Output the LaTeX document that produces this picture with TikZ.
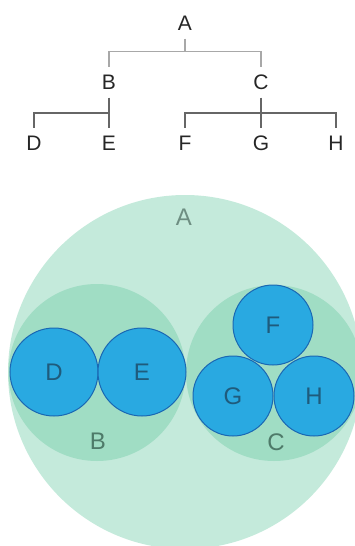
\documentclass[tikz,border=0pt]{standalone}
\usepackage{fontspec}
\setmainfont{Liberation Sans}
\definecolor{lineTop}{HTML}{A8A8A8}
\definecolor{lineBot}{HTML}{666666}
\definecolor{fillA}{HTML}{C4EADB}
\definecolor{fillB}{HTML}{A0DDC4}
\definecolor{blueF}{HTML}{29A9E1}
\definecolor{blueD}{HTML}{1A68B3}
\definecolor{txtBlue}{HTML}{1F5B7C}
\definecolor{txtB}{HTML}{4E7A69}
\definecolor{txtA}{HTML}{6E8E82}
\tikzset{
  treelabel/.style={inner sep=0pt, outer sep=8pt, text height=15pt, text depth=0pt, font=\fontsize{21}{21}\selectfont, text=black!85},
  toplink/.style={draw=lineTop, line width=1.3pt},
  botlink/.style={draw=lineBot, line width=2pt},
  bigcirc/.style={circle, inner sep=0pt, fill=fillA},
  midcirc/.style={circle, inner sep=0pt, fill=fillB},
  leafcirc/.style={circle, inner sep=0pt, fill=blueF, draw=blueD, line width=1pt, text=txtBlue, font=\fontsize{24}{24}\selectfont},
  circlabel/.style={inner sep=0pt, font=\fontsize{24}{24}\selectfont},
}
\begin{document}
\begin{tikzpicture}[x=1pt, y=-1pt]
\useasboundingbox (0,0) rectangle (355,546);
\clip (0,0) rectangle (355,546);
% tree
\node[treelabel] (A) at (185,23) {A};
\node[treelabel] (B) at (109,82) {B};
\node[treelabel] (C) at (261,82) {C};
\node[treelabel] (D) at (34,143) {D};
\node[treelabel] (E) at (109,143) {E};
\node[treelabel] (F) at (185,143) {F};
\node[treelabel] (G) at (261,143) {G};
\node[treelabel] (H) at (336,143) {H};
\draw[toplink] (A.south) -- ++(0,13) coordinate (ja) -| (B.north);
\draw[toplink] (ja) -| (C.north);
\draw[botlink] (B.south) -- ++(0,15.5) coordinate (jb) -| (D.north);
\draw[botlink] (jb) -| (E.north);
\draw[botlink] (C.south) -- (G.north);
\draw[botlink] (F.north) |- (H.north |- jb) -- (H.north);
% circle packing
\node[bigcirc, minimum size=354pt] (cA) at (185,372) {};
\node[midcirc, minimum size=177pt] (cB) at (97,372.5) {};
\node[midcirc, minimum size=176pt] (cC) at (274,373) {};
\node[circlabel, text=txtA] (lA) at (184,217) {A};
\node[circlabel, text=txtB] (lB) at (98,441) {B};
\node[circlabel, text=txtB] (lC) at (276,442) {C};
\node[leafcirc, minimum size=88pt] (cD) at (54,372) {D};
\node[leafcirc, minimum size=88pt] (cE) at (142,372) {E};
\node[leafcirc, minimum size=80pt] (cF) at (273,325) {F};
\node[leafcirc, minimum size=80pt] (cG) at (233,396) {G};
\node[leafcirc, minimum size=80pt] (cH) at (314,396) {H};
\end{tikzpicture}
\end{document}
